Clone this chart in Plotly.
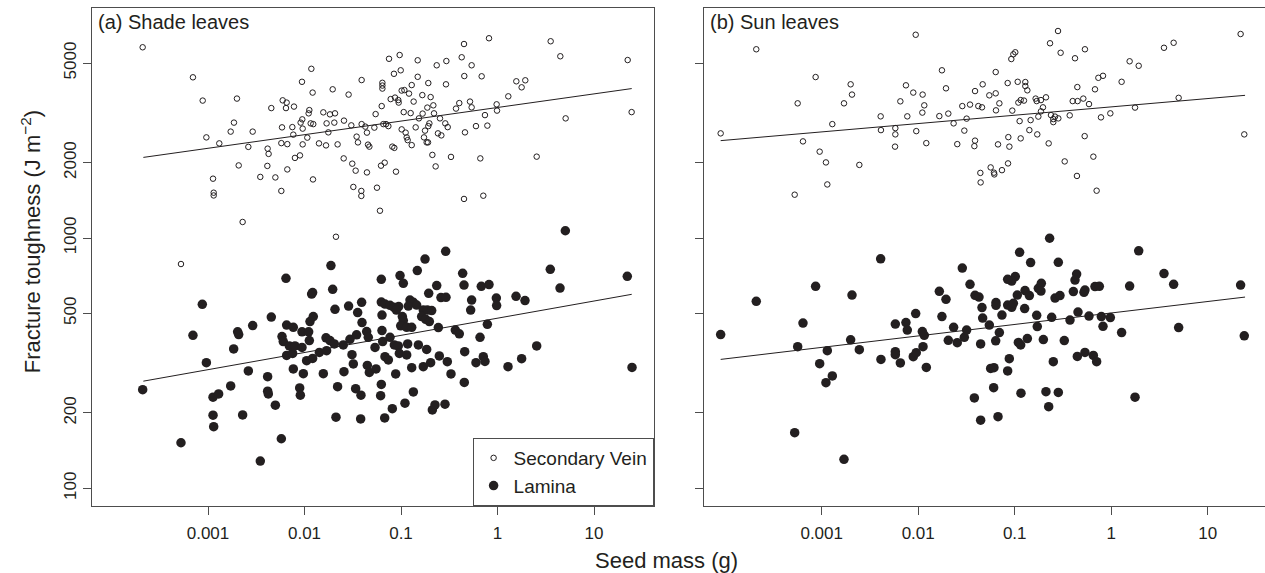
import plotly.graph_objects as go

# ---------------- data (log10 seed mass [g], log10 fracture toughness [J m^-2]) ----------------
shade_vein = [
    (-3.677,3.762),(-3.156,3.642),(-3.055,3.549),(-2.700,3.557),(-3.017,3.402),(-2.883,3.378),(-2.765,3.425),
    (-2.731,3.461),(-2.537,3.425),(-2.582,3.364),(-2.682,3.290),(-2.948,3.237),(-2.941,3.181),(-2.941,3.170),
    (-2.641,3.064),(-3.280,2.896),(-1.674,3.005),(-1.929,3.676),(-2.026,3.624),(-1.916,3.581),(-1.708,3.594),
    (-1.543,3.573),(-1.408,3.631),(-2.344,3.519),(-2.226,3.550),(-2.185,3.541),(-2.192,3.519),(-2.109,3.525),
    (-1.950,3.511),(-1.957,3.498),(-1.805,3.502),(-1.736,3.494),(-1.684,3.498),(-2.023,3.474),(-2.040,3.461),
    (-1.936,3.458),(-1.909,3.455),(-1.771,3.458),(-1.691,3.461),(-1.591,3.469),(-1.515,3.450),(-1.408,3.455),
    (-1.370,3.445),(-2.233,3.442),(-2.126,3.443),(-2.019,3.437),(-2.116,3.413),(-1.971,3.401),(-1.753,3.422),
    (-2.240,3.379),(-2.178,3.375),(-2.019,3.374),(-1.850,3.378),(-1.777,3.370),(-1.657,3.374),(-1.460,3.405),
    (-1.446,3.382),(-1.353,3.421),(-1.342,3.373),(-1.328,3.365),(-2.382,3.357),(-2.372,3.336),(-2.099,3.320),
    (-2.047,3.330),(-2.385,3.288),(-2.178,3.274),(-2.458,3.244),(-2.302,3.242),(-1.912,3.234),(-2.240,3.188),
    (-1.594,3.318),(-1.505,3.297),(-1.470,3.269),(-1.353,3.262),(-1.494,3.204),(-1.411,3.188),(-1.411,3.168),
    (-0.088,3.798),(-0.347,3.775),(0.551,3.786),(0.651,3.726),(1.349,3.711),(-1.124,3.716),(-1.014,3.731),
    (-0.827,3.710),(-0.630,3.690),(-0.530,3.707),(-0.371,3.722),(-0.268,3.690),(-1.073,3.656),(-1.003,3.670),
    (-0.827,3.644),(-0.344,3.647),(-0.164,3.646),(-1.193,3.620),(-1.193,3.609),(-1.193,3.597),(-0.889,3.611),
    (-0.717,3.619),(-0.534,3.614),(0.195,3.626),(0.288,3.630),(0.250,3.602),(-0.993,3.589),(-0.965,3.591),
    (-0.917,3.577),(-0.779,3.571),(-0.693,3.563),(-1.107,3.555),(-1.062,3.561),(-1.028,3.551),(-1.024,3.541),
    (-0.869,3.545),(-0.665,3.530),(-1.200,3.527),(-1.263,3.495),(-0.972,3.503),(-0.900,3.499),(-0.776,3.497),
    (-0.727,3.521),(-0.658,3.498),(-0.814,3.478),(-0.596,3.478),(-0.396,3.539),(-0.285,3.545),(-0.268,3.522),
    (-0.430,3.517),(-0.009,3.534),(-0.005,3.509),(0.112,3.566),(-0.130,3.491),(-0.541,3.458),(-0.516,3.443),
    (-0.706,3.458),(-0.717,3.447),(-0.751,3.429),(-0.848,3.442),(-0.993,3.434),(-0.952,3.421),(-0.941,3.402),
    (-0.931,3.391),(-0.889,3.371),(-0.762,3.402),(-0.734,3.382),(-0.720,3.382),(-0.617,3.418),(-0.582,3.410),
    (-0.337,3.422),(-0.223,3.447),(-0.105,3.449),(-1.276,3.441),(-1.183,3.455),(-1.155,3.455),(-1.131,3.447),
    (-1.090,3.365),(-1.069,3.360),(-1.207,3.289),(-1.169,3.301),(-1.052,3.265),(-0.675,3.332),(-0.641,3.286),
    (-0.482,3.324),(-0.178,3.318),(0.406,3.325),(0.706,3.478),(1.390,3.503),(-1.249,3.201),(-1.218,3.109),
    (-0.347,3.156),(-0.147,3.169),
]
shade_lamina = [
    (-3.677,2.394),(-3.280,2.182),(-3.156,2.611),(-3.059,2.735),(-3.017,2.502),(-2.948,2.364),(-2.890,2.377),
    (-2.948,2.292),(-2.941,2.246),(-2.765,2.409),(-2.734,2.557),(-2.693,2.625),(-2.682,2.614),(-2.641,2.293),
    (-2.582,2.469),(-2.537,2.650),(-2.458,2.109),(-2.382,2.446),(-2.382,2.388),(-2.375,2.377),(-2.344,2.684),
    (-2.302,2.332),(-2.240,2.198),(-2.233,2.606),(-2.220,2.586),(-2.192,2.839),(-2.185,2.652),(-2.116,2.643),
    (-2.185,2.531),(-2.123,2.539),(-2.157,2.569),(-2.099,2.569),(-2.026,2.563),(-2.116,2.477),(-2.050,2.401),
    (-2.043,2.372),(-2.026,2.625),(-1.957,2.625),(-2.012,2.458),(-1.950,2.590),(-1.978,2.510),(-1.916,2.519),
    (-1.943,2.666),(-1.909,2.686),(-1.926,2.776),(-1.916,2.782),(-1.846,2.543),(-1.805,2.458),(-1.771,2.550),
    (-1.777,2.601),(-1.736,2.590),(-1.691,2.577),(-1.726,2.890),(-1.708,2.795),(-1.684,2.715),(-1.657,2.406),
    (-1.674,2.284),(-1.598,2.573),(-1.591,2.466),(-1.543,2.728),(-1.508,2.534),(-1.494,2.497),(-1.529,2.595),
    (-1.460,2.613),(-1.449,2.702),(-1.408,2.743),(-1.404,2.662),(-1.470,2.398),(-1.415,2.372),(-1.418,2.277),
    (-1.356,2.626),(-1.339,2.603),(-1.349,2.491),(-1.328,2.463),
    (0.703,3.029),(-0.537,2.947),(-0.751,2.916),(-0.831,2.870),(-1.204,2.835),(-1.010,2.850),(-0.976,2.819),
    (-0.361,2.859),(-0.347,2.812),(0.547,2.875),(0.648,2.800),(1.345,2.847),(-0.630,2.810),(-0.168,2.807),
    (-0.088,2.814),(-0.713,2.779),(-0.586,2.762),(-0.534,2.763),(-0.268,2.752),(-0.278,2.712),(-0.012,2.760),
    (-0.009,2.730),(0.192,2.767),(0.285,2.750),(-1.204,2.744),(-1.166,2.736),(-1.114,2.731),(-1.073,2.723),
    (-1.024,2.726),(-1.048,2.712),(-1.197,2.692),(-0.907,2.752),(-0.872,2.743),(-0.924,2.728),(-0.838,2.732),
    (-0.769,2.712),(-0.727,2.712),(-0.682,2.710),(-0.786,2.686),(-0.744,2.675),(-0.706,2.666),(-0.986,2.686),
    (-0.976,2.670),(-1.003,2.649),(-0.941,2.643),(-0.889,2.643),(-0.613,2.642),(-0.437,2.632),(-0.396,2.617),
    (-0.105,2.655),(-0.181,2.603),(-1.197,2.630),(-1.114,2.603),(-1.190,2.586),(-1.269,2.563),(-1.069,2.573),
    (-1.028,2.569),(-0.931,2.577),(-0.820,2.573),(-0.734,2.555),(-1.017,2.539),(-0.941,2.533),(-1.166,2.526),
    (-1.131,2.513),(-0.603,2.529),(-0.520,2.506),(-0.340,2.546),(-0.147,2.526),(-0.130,2.507),(-0.223,2.502),
    (-0.693,2.502),(-0.769,2.486),(-0.889,2.482),(-1.259,2.477),(-1.055,2.457),(-0.482,2.457),(-0.344,2.423),
    (0.109,2.486),(0.250,2.518),(0.406,2.569),(1.394,2.483),(-1.204,2.415),(-1.211,2.370),(-0.872,2.385),
    (-0.959,2.340),(-0.675,2.313),(-0.648,2.333),(-0.544,2.336),(-1.090,2.318),(-1.169,2.281),
]
sun_vein = [
    (-4.047,3.418),(-3.678,3.754),(-3.249,3.538),(-3.063,3.643),(-3.194,3.386),(-2.890,3.455),(-3.021,3.345),
    (-2.956,3.302),(-2.942,3.214),(-3.280,3.173),(-2.700,3.614),(-2.686,3.573),(-2.769,3.538),(-2.610,3.292),
    (-2.389,3.486),(-2.386,3.431),(-2.237,3.439),(-2.237,3.414),(-2.240,3.365),(-2.185,3.546),(-2.127,3.610),
    (-2.051,3.581),(-1.954,3.573),(-1.937,3.530),(-1.957,3.501),(-2.113,3.486),(-2.020,3.427),(-1.916,3.379),
    (-2.026,3.812),(-1.754,3.670),(-1.712,3.598),(-1.781,3.487),(-1.688,3.497),(-1.633,3.458),(-1.543,3.527),
    (-1.498,3.477),(-1.522,3.429),(-1.595,3.375),(-1.463,3.533),
    (-0.551,3.827),(-0.634,3.778),(-0.524,3.740),(-0.272,3.754),(-0.375,3.718),(1.341,3.815),(0.547,3.760),
    (0.647,3.780),(0.191,3.706),(0.285,3.688),(-1.035,3.715),(-1.014,3.734),(-0.994,3.742),(-1.197,3.663),
    (-1.332,3.614),(-1.411,3.587),(-1.263,3.570),(-1.197,3.578),(-1.073,3.619),(-0.969,3.624),(-0.890,3.623),
    (-0.890,3.607),(-0.869,3.590),(-0.133,3.640),(-0.085,3.648),(0.108,3.624),(-0.351,3.603),(-0.168,3.594),
    (-1.159,3.538),(-1.194,3.510),(-1.377,3.527),(-1.339,3.522),(-1.025,3.509),(-0.962,3.541),(-0.938,3.551),
    (-0.904,3.549),(-0.783,3.557),(-0.772,3.547),(-0.728,3.551),(-0.676,3.562),(-0.707,3.522),(-0.728,3.506),
    (-0.755,3.485),(-0.624,3.491),(-0.600,3.475),(-0.582,3.485),(-0.600,3.463),(-0.548,3.478),(-0.430,3.490),
    (-0.399,3.547),(-0.348,3.547),(-0.289,3.557),(-0.230,3.535),(-0.949,3.467),(-0.835,3.471),(-0.106,3.482),
    (-0.009,3.498),(0.247,3.521),(0.699,3.560),(1.379,3.414),(-0.848,3.431),(-0.766,3.414),(-0.938,3.398),
    (-0.648,3.378),(-0.275,3.407),(-1.066,3.403),(-1.173,3.374),(-1.055,3.365),(-1.411,3.389),(-1.418,3.367),
    (-0.482,3.306),(-0.185,3.325),(-0.355,3.248),(-0.151,3.189),(-1.356,3.260),(-1.353,3.222),(-1.249,3.282),
    (-1.215,3.261),(-1.211,3.254),(-1.132,3.271),(-1.069,3.298),
]
sun_lamina = [
    (-4.047,2.614),(-3.678,2.747),(-3.249,2.566),(-3.194,2.660),(-3.063,2.807),(-3.280,2.222),(-3.021,2.498),
    (-2.942,2.550),(-2.956,2.422),(-2.890,2.449),(-2.769,2.116),(-2.700,2.593),(-2.686,2.772),(-2.610,2.554),
    (-2.389,2.917),(-2.386,2.515),(-2.237,2.656),(-2.237,2.546),(-2.237,2.534),(-2.185,2.501),(-2.127,2.662),
    (-2.113,2.632),(-2.026,2.698),(-2.051,2.526),(-2.020,2.542),(-1.957,2.626),(-1.937,2.611),(-1.950,2.566),
    (-1.916,2.483),(-1.781,2.787),(-1.754,2.686),(-1.712,2.755),(-1.688,2.591),(-1.633,2.643),(-1.595,2.582),
    (-1.543,2.880),(-1.522,2.603),(-1.498,2.632),(-1.463,2.815),
    (-0.638,2.999),(-0.949,2.943),(-0.835,2.902),(-0.548,2.903),(0.285,2.949),(0.547,2.858),(0.647,2.815),
    (1.341,2.812),(0.191,2.808),(-1.411,2.771),(-1.370,2.764),(-1.339,2.722),(-1.332,2.680),(-1.263,2.652),
    (-1.159,2.622),(-1.194,2.742),(-1.194,2.731),(-1.073,2.732),(-1.031,2.723),(-1.014,2.739),(-0.994,2.846),
    (-1.031,2.828),(-1.073,2.835),(-0.973,2.772),(-0.893,2.790),(-0.848,2.770),(-0.897,2.718),(-1.132,2.692),
    (-1.353,2.577),(-1.197,2.589),(-0.962,2.583),(-0.938,2.573),(-0.869,2.598),(-0.772,2.691),(-0.766,2.646),
    (-0.755,2.799),(-0.724,2.819),(-0.728,2.788),(-0.703,2.594),(-0.617,2.683),(-0.582,2.760),(-0.531,2.770),
    (-0.486,2.590),(-0.427,2.672),(-0.392,2.786),(-0.358,2.856),(-0.375,2.832),(-0.344,2.704),(-0.282,2.783),
    (-0.272,2.792),(-0.230,2.688),(-0.168,2.806),(-0.123,2.807),(-0.102,2.686),(-0.085,2.647),(-0.009,2.682),
    (0.108,2.622),(0.699,2.642),(1.379,2.609),(-1.056,2.518),(-1.249,2.479),(-1.215,2.482),(-1.073,2.469),
    (-0.600,2.506),(-0.351,2.527),(-0.272,2.543),(-0.185,2.531),(-0.151,2.506),(-1.218,2.402),(-0.935,2.380),
    (-0.676,2.386),(-0.548,2.383),(-0.648,2.326),(0.247,2.364),(-1.418,2.361),(-1.353,2.272),(-1.173,2.286),
]

# fitted regression lines (end points, log10 units)
shade_vein_fit_mass = [-3.670, 1.391]
shade_vein_fit_tough = [3.322, 3.597]
shade_lamina_fit_mass = [-3.670, 1.391]
shade_lamina_fit_tough = [2.428, 2.775]
sun_vein_fit_mass = [-4.047, 1.387]
sun_vein_fit_tough = [3.389, 3.570]
sun_lamina_fit_mass = [-4.047, 1.387]
sun_lamina_fit_tough = [2.515, 2.764]

x_tick_vals = [0.001, 0.01, 0.1, 1, 10]
x_tick_text = ["0.001", "0.01", "0.1", "1", "10"]
y_tick_vals = [100, 200, 500, 1000, 2000, 5000]
y_tick_text = ["100", "200", "500", "1000", "2000", "5000"]

panel_titles = ["(a) Shade leaves", "(b) Sun leaves"]
series_names = ["Secondary Vein", "Lamina"]

# ---------------- figure ----------------
FONT = "Liberation Sans, Arial, Helvetica, sans-serif"
INK = "#231f20"
AXIS = "#4d4d4d"
W, H = 1265, 573


def lin(vals):
    return [10 ** v for v in vals]


def unzip(pairs):
    return lin([p[0] for p in pairs]), lin([p[1] for p in pairs])


fig = go.Figure()

panels = [
    ("x", "y", shade_vein, shade_lamina,
     (shade_vein_fit_mass, shade_vein_fit_tough), (shade_lamina_fit_mass, shade_lamina_fit_tough), True),
    ("x2", "y2", sun_vein, sun_lamina,
     (sun_vein_fit_mass, sun_vein_fit_tough), (sun_lamina_fit_mass, sun_lamina_fit_tough), False),
]

for xa, ya, vein, lam, vfit, lfit, show in panels:
    vx, vy = unzip(vein)
    fig.add_trace(go.Scatter(
        x=vx, y=vy, mode="markers", name=series_names[0], showlegend=show,
        legendgroup="vein", xaxis=xa, yaxis=ya,
        marker=dict(symbol="circle-open", size=5.5, color=INK, line=dict(width=1, color=INK)),
    ))
    lx, ly = unzip(lam)
    fig.add_trace(go.Scatter(
        x=lx, y=ly, mode="markers", name=series_names[1], showlegend=show,
        legendgroup="lamina", xaxis=xa, yaxis=ya,
        marker=dict(symbol="circle", size=9.5, color=INK, line=dict(width=0)),
    ))
    for fm, ft in (vfit, lfit):
        fig.add_trace(go.Scatter(
            x=lin(fm), y=lin(ft), mode="lines", showlegend=False, hoverinfo="skip",
            xaxis=xa, yaxis=ya, line=dict(color=INK, width=1),
        ))

# pixel geometry of the plot frames
xa_left, xa_right = 91.5, 653.6
xb_left, xb_right = 704.3, 1265.0
y_top, y_bot = 8.3, 506.0
dec_x = 96.5                 # px per decade on x
x_a_001, x_b_001 = 208.0, 821.7  # pixel of 0.001 in each panel


def xrange_for(left, right, at001):
    return [-3 - (at001 - left) / dec_x, -3 + (right - at001) / dec_x]


common = dict(
    showline=True, linecolor=AXIS, linewidth=1, mirror=True,
    ticks="outside", ticklen=8, tickwidth=1, tickcolor=AXIS,
    showgrid=False, zeroline=False, automargin=False,
    tickfont=dict(family=FONT, size=17, color=INK),
)

ydom = [(H - y_bot) / H, (H - y_top) / H]
yrange = [3 - (y_bot - 238.0) / 250.3, 3 + (238.0 - y_top) / 250.3]

fig.update_layout(
    width=W, height=H,
    margin=dict(l=0, r=0, t=0, b=0),
    paper_bgcolor="white", plot_bgcolor="white",
    font=dict(family=FONT, color=INK, size=17),
    xaxis=dict(type="log", domain=[xa_left / W, xa_right / W],
               range=xrange_for(xa_left, xa_right, x_a_001), anchor="y",
               tickvals=x_tick_vals, ticktext=x_tick_text, ticklabelstandoff=4, **common),
    xaxis2=dict(type="log", domain=[xb_left / W, xb_right / W],
                range=xrange_for(xb_left, xb_right, x_b_001), anchor="y2",
                tickvals=x_tick_vals, ticktext=x_tick_text, ticklabelstandoff=4, **common),
    yaxis=dict(type="log", domain=ydom, range=yrange, anchor="x",
               tickvals=y_tick_vals, ticktext=y_tick_text, tickangle=-90, **common),
    yaxis2=dict(type="log", domain=ydom, range=yrange, anchor="x2",
                tickvals=y_tick_vals, showticklabels=False, **common),
    showlegend=True,
    legend=dict(
        x=xa_right / W, xanchor="right", y=(H - y_bot) / H, yanchor="bottom",
        bgcolor="white", bordercolor=AXIS, borderwidth=1,
        font=dict(family=FONT, size=19, color=INK), itemwidth=30, tracegroupgap=0,
    ),
    annotations=[
        dict(text=panel_titles[0], xref="paper", yref="paper", x=96 / W, y=(H - 21.7) / H,
             xanchor="left", yanchor="middle", showarrow=False, font=dict(size=20)),
        dict(text=panel_titles[1], xref="paper", yref="paper", x=708 / W, y=(H - 21.7) / H,
             xanchor="left", yanchor="middle", showarrow=False, font=dict(size=20)),
        dict(text="Fracture toughness (J m<sup>\u22122</sup>)", xref="paper", yref="paper",
             x=30.5 / W, y=(H - 241.7) / H, xanchor="center", yanchor="middle",
             textangle=-90, showarrow=False, font=dict(size=22)),
        dict(text="Seed mass (g)", xref="paper", yref="paper", x=667 / W, y=(H - 560) / H,
             xanchor="center", yanchor="middle", showarrow=False, font=dict(size=22)),
    ],
)

fig.write_html("out.html")
